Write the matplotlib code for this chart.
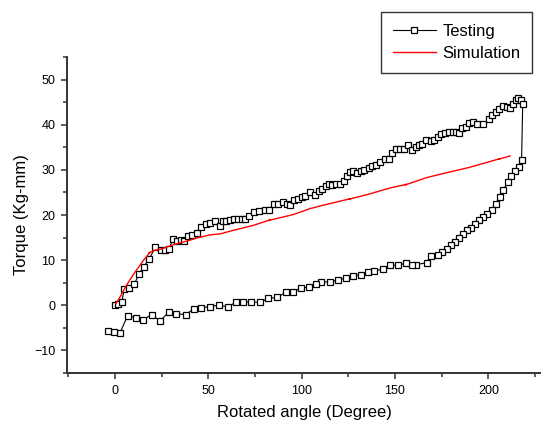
import matplotlib.pyplot as plt
from matplotlib.ticker import MultipleLocator

plt.rcParams['font.family'] = ['Liberation Sans', 'DejaVu Sans']

# Testing: loading branch, drop, unloading branch
load_x = [-0.2, 1.8, 3.6, 5.0, 7.5, 10.3, 12.9, 15.4, 18.4, 21.6, 24.6, 26.8, 28.8, 31.1, 33.4,
          35.4, 37.1, 39.3, 41.2, 43.9, 46.1, 48.7, 50.9, 53.7, 56.4, 57.8, 59.6, 61.6, 63.7, 66.0,
          68.0, 69.8, 71.9, 74.6, 77.3, 80.2, 82.3, 85.2, 87.3, 90.1, 92.0, 93.7, 96.0, 97.9, 100.0,
          101.9, 104.4, 107.0, 109.1, 110.9, 113.0, 114.5, 116.2, 118.4, 120.7, 122.8, 124.4, 126.0,
          127.6, 129.6, 131.9, 133.5, 135.9, 137.8, 139.8, 141.9, 144.6, 146.6, 148.5, 150.5, 152.7,
          155.0, 156.9, 159.2, 161.2, 162.8, 164.3, 166.4, 169.1, 171.0, 173.0, 174.8, 176.6, 179.1,
          180.9, 182.6, 184.4, 186.0, 188.0, 189.6, 191.6, 194.1, 197.3, 200.2, 202.1, 203.9, 205.7,
          207.8, 210.0, 211.6, 213.2, 214.8, 216.0, 217.5, 218.4]
load_y = [0.1, 0.3, 0.6, 3.5, 3.7, 4.6, 6.9, 8.5, 10.3, 12.8, 12.2, 12.2, 12.5, 14.6, 14.3,
          14.5, 14.3, 15.4, 15.6, 16.1, 17.3, 17.9, 18.2, 18.7, 17.6, 18.6, 18.7, 18.8, 19.1, 19.2,
          19.2, 19.2, 19.7, 20.7, 20.8, 21.2, 21.2, 22.5, 22.4, 22.8, 22.5, 22.3, 23.3, 23.5, 24.0,
          24.3, 25.0, 24.5, 25.3, 25.7, 26.4, 26.8, 26.6, 26.9, 26.9, 27.5, 28.6, 29.5,
          29.7, 29.4, 29.8, 30.0, 30.4, 30.9, 31.2, 31.8, 32.4, 32.5, 33.7, 34.6, 34.7,
          34.6, 35.5, 34.5, 35.1, 35.6, 35.8, 36.6, 36.4, 36.6, 37.3, 38.0, 38.2, 38.5,
          38.5, 38.5, 38.3, 39.2, 39.5, 40.4, 40.6, 40.3, 40.1, 41.4, 42.3, 42.8, 43.5,
          44.3, 44.0, 43.8, 44.7, 45.6, 45.9, 45.6, 44.6]
unload_x = [217.8, 216.2, 214.3, 212.3, 210.5, 208.0, 206.1, 203.9, 201.8, 199.5, 197.3, 195.1,
            192.9, 190.7, 188.6, 186.4, 184.2, 182.0, 179.8, 177.6, 175.0, 172.8, 169.1, 166.9,
            161.1, 159.2, 155.9, 151.7, 147.3, 143.7, 138.9, 135.3, 131.8, 127.6, 123.7, 119.4,
            115.2, 110.5, 107.7, 104.1, 99.6, 95.5, 91.6, 86.9, 82.1, 77.7, 72.8, 68.7, 64.6,
            60.4, 55.7, 50.9, 45.9, 42.3, 37.9, 32.8, 29.1, 24.1, 19.7, 15.2, 11.1, 6.8, 2.7,
            -0.4, -3.9]
unload_y = [32.3, 30.6, 29.8, 28.6, 27.3, 25.6, 24.0, 22.5, 21.2, 20.3, 19.6, 18.9,
            18.1, 17.2, 16.6, 15.8, 14.8, 14.0, 13.3, 12.5, 11.8, 11.2, 11.0, 9.4,
            9.0, 9.0, 9.4, 8.8, 8.9, 8.0, 7.6, 7.4, 6.8, 6.5, 6.0, 5.6,
            5.2, 5.1, 4.6, 4.0, 3.8, 3.0, 2.9, 1.7, 1.5, 0.6, 0.7, 0.7, 0.6,
            -0.4, 0.0, -0.3, -0.6, -0.8, -2.1, -1.9, -1.5, -3.5, -2.1, -3.2, -2.8, -2.3, -6.2,
            -6.0, -5.7]

sim_x = [0.5, 3.0, 5.4, 8.0, 10.7, 13.0, 15.2, 17.0, 18.7, 18.2, 21.5, 25.0, 31.2, 38.4, 45.5,
         45.0, 50.9, 56.2, 63.4, 74.1, 83.0, 82.4, 95.5, 104.4, 109.8, 125.9, 125.3, 136.6,
         147.3, 156.2, 155.6, 163.4, 166.9, 175.8, 190.1, 206.2, 205.6, 211.6]
sim_y = [0.3, 2.0, 3.8, 5.6, 7.3, 8.6, 9.9, 10.8, 11.7, 11.6, 12.2, 12.5, 13.4, 14.2, 15.1,
         15.0, 15.6, 15.8, 16.6, 17.7, 18.9, 18.8, 20.1, 21.4, 22.0, 23.6, 23.5, 24.7,
         26.0, 26.8, 26.7, 27.8, 28.3, 29.2, 30.6, 32.5, 32.4, 33.1]

test_x = load_x + unload_x
test_y = load_y + unload_y

fig = plt.figure(figsize=(5.41, 4.26), dpi=100)
ax = fig.add_axes([0.1244, 0.125, 0.8756, 0.7405])

ax.plot(test_x, test_y, color='black', lw=0.8, marker='s', ms=4.3,
        mfc='white', mec='black', mew=0.9, label='Testing')
ax.plot(sim_x, sim_y, color='red', lw=1.0, label='Simulation')

ax.set_xlim(-25.5, 228.2)
ax.set_ylim(-15, 55)
ax.xaxis.set_major_locator(MultipleLocator(50))
ax.xaxis.set_minor_locator(MultipleLocator(25))
ax.yaxis.set_major_locator(MultipleLocator(10))
ax.yaxis.set_minor_locator(MultipleLocator(5))

for s in ['top', 'right']:
    ax.spines[s].set_visible(False)
for s in ['left', 'bottom']:
    ax.spines[s].set_linewidth(1.4)
    ax.spines[s].set_color('#333333')

ax.tick_params(which='major', direction='out', length=4.5, width=1.1, color='#333333',
               labelsize=9, pad=4)
ax.tick_params(which='minor', direction='out', length=3, width=1.1, color='#333333')

ax.set_xlabel('Rotated angle (Degree)', fontsize=12, labelpad=6)
ax.set_ylabel('Torque (Kg-mm)', fontsize=12, labelpad=4)

leg = fig.legend(loc='upper left', bbox_to_anchor=(381 / 541, 1 - 12 / 426), fontsize=12,
                 frameon=True, fancybox=False, shadow=False, numpoints=1,
                 handlelength=2.6, handletextpad=0.4, labelspacing=0.45, borderpad=0.7,
                 borderaxespad=0)
leg.get_frame().set_edgecolor('black')
leg.get_frame().set_linewidth(1.0)

fig.savefig('out.png', dpi=100)
